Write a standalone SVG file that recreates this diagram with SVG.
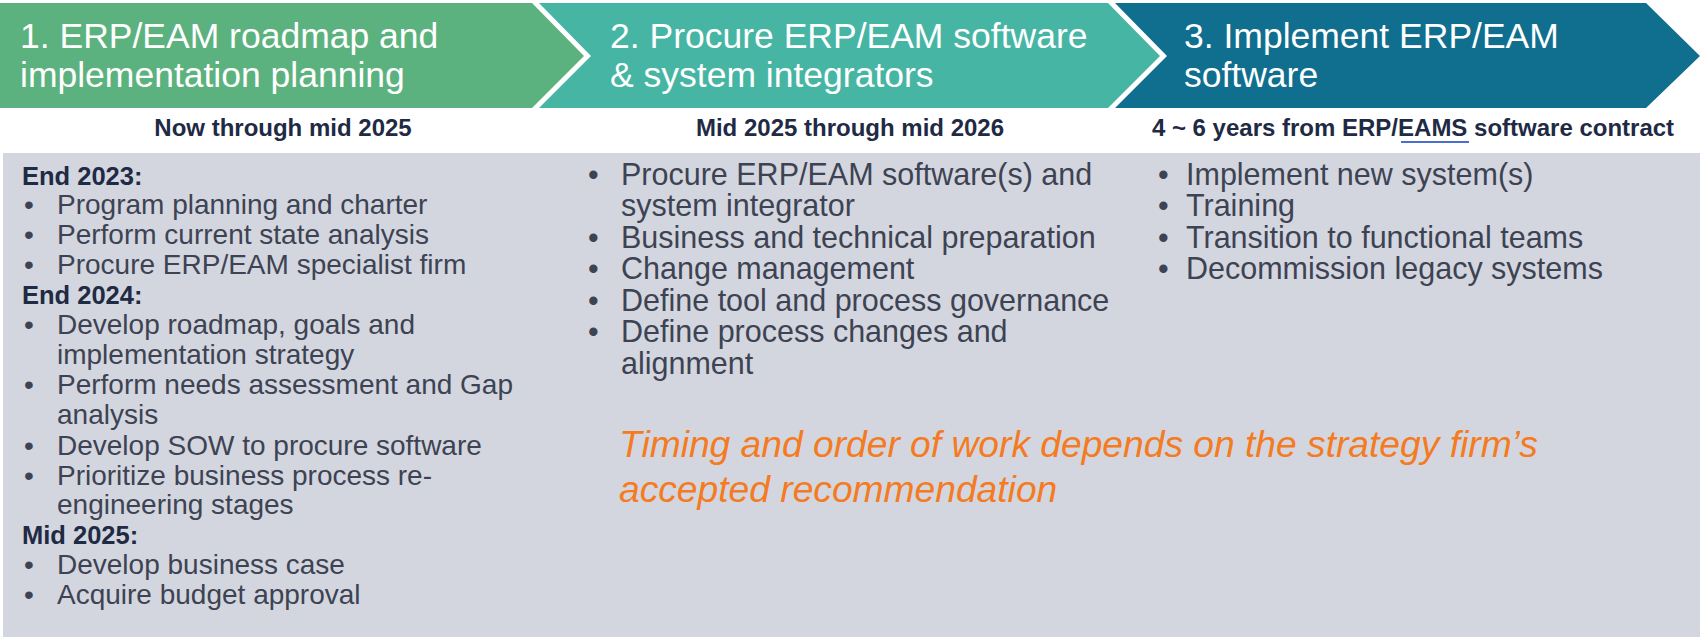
<svg xmlns="http://www.w3.org/2000/svg" width="1703" height="637" viewBox="0 0 1703 637">
<style>
.head{font-family:"Liberation Sans",Arial,sans-serif;font-size:35.5px;fill:#ffffff}
.sub{font-family:"Liberation Sans",Arial,sans-serif;font-size:24px;font-weight:bold;fill:#1f2a44}
.lab{font-family:"Liberation Sans",Arial,sans-serif;font-size:25.5px;font-weight:bold;fill:#1f2a44}
.item{font-family:"Liberation Sans",Arial,sans-serif;font-size:28px;fill:#3d4353}
.item2{font-family:"Liberation Sans",Arial,sans-serif;font-size:30.5px;fill:#3d4353}
.note{font-family:"Liberation Sans",Arial,sans-serif;font-size:37.2px;font-style:italic;fill:#f47b22}
</style>
<rect width="1703" height="637" fill="#ffffff"/>
<g id="chevron1">
<polygon points="0,3 532,3 584,56 532,108 0,108" fill="#5cb27e"/>
<text class="head" x="20" y="48">1. ERP/EAM roadmap and</text>
<text class="head" x="20" y="87">implementation planning</text>
</g>
<g id="chevron2">
<polygon points="539,3 1108,3 1160,56 1108,108 539,108 591,56" fill="#47b5a4"/>
<text class="head" x="610" y="48">2. Procure ERP/EAM software</text>
<text class="head" x="610" y="87">&amp; system integrators</text>
</g>
<g id="chevron3">
<polygon points="1115,3 1646,3 1700,56 1646,108 1115,108 1167,56" fill="#106e8e"/>
<text class="head" x="1184" y="48">3. Implement ERP/EAM</text>
<text class="head" x="1184" y="87">software</text>
</g>
<g id="timeframes">
<text class="sub" x="283" y="136" text-anchor="middle">Now through mid 2025</text>
<text class="sub" x="850" y="136" text-anchor="middle">Mid 2025 through mid 2026</text>
<text class="sub" x="1413" y="136" text-anchor="middle">4 ~ 6 years from ERP/EAMS software contract</text>
<line x1="1401" y1="142" x2="1469" y2="142" stroke="#4a6fd0" stroke-width="2"/>
</g>
<rect id="panel" x="3" y="153" width="1697" height="484" fill="#d3d6de"/>
<g id="col1">
<text class="lab" x="22" y="185">End 2023:</text>
<text class="item" x="24" y="214">•</text><text class="item" x="57" y="214">Program planning and charter</text>
<text class="item" x="24" y="244">•</text><text class="item" x="57" y="244">Perform current state analysis</text>
<text class="item" x="24" y="274">•</text><text class="item" x="57" y="274">Procure ERP/EAM specialist firm</text>
<text class="lab" x="22" y="304">End 2024:</text>
<text class="item" x="24" y="334">•</text><text class="item" x="57" y="334">Develop roadmap, goals and</text>
<text class="item" x="57" y="364">implementation strategy</text>
<text class="item" x="24" y="394">•</text><text class="item" x="57" y="394">Perform needs assessment and Gap</text>
<text class="item" x="57" y="424">analysis</text>
<text class="item" x="24" y="455">•</text><text class="item" x="57" y="455">Develop SOW to procure software</text>
<text class="item" x="24" y="485">•</text><text class="item" x="57" y="485">Prioritize business process re-</text>
<text class="item" x="57" y="514">engineering stages</text>
<text class="lab" x="22" y="544">Mid 2025:</text>
<text class="item" x="24" y="574">•</text><text class="item" x="57" y="574">Develop business case</text>
<text class="item" x="24" y="604">•</text><text class="item" x="57" y="604">Acquire budget approval</text>
</g>
<g id="col2">
<text class="item2" x="588" y="185">•</text><text class="item2" x="621" y="185">Procure ERP/EAM software(s) and</text>
<text class="item2" x="621" y="216">system integrator</text>
<text class="item2" x="588" y="248">•</text><text class="item2" x="621" y="248">Business and technical preparation</text>
<text class="item2" x="588" y="279">•</text><text class="item2" x="621" y="279">Change management</text>
<text class="item2" x="588" y="311">•</text><text class="item2" x="621" y="311">Define tool and process governance</text>
<text class="item2" x="588" y="342">•</text><text class="item2" x="621" y="342">Define process changes and</text>
<text class="item2" x="621" y="374">alignment</text>
</g>
<g id="col3">
<text class="item2" x="1158" y="185">•</text><text class="item2" x="1186" y="185">Implement new system(s)</text>
<text class="item2" x="1158" y="216">•</text><text class="item2" x="1186" y="216">Training</text>
<text class="item2" x="1158" y="248">•</text><text class="item2" x="1186" y="248">Transition to functional teams</text>
<text class="item2" x="1158" y="279">•</text><text class="item2" x="1186" y="279">Decommission legacy systems</text>
</g>
<g id="note">
<text class="note" x="619" y="457">Timing and order of work depends on the strategy firm’s</text>
<text class="note" x="619" y="502">accepted recommendation</text>
</g>
<g id="connectors"/>
</svg>
